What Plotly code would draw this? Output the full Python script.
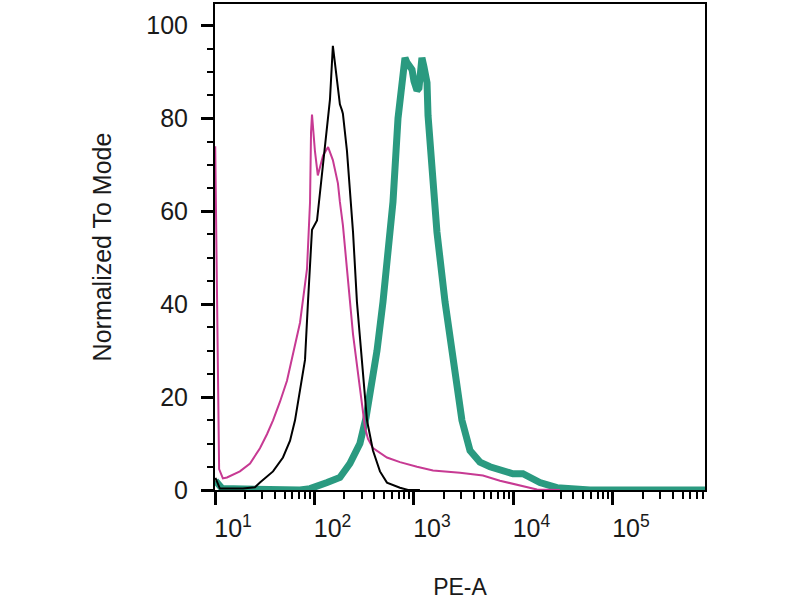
import plotly.graph_objects as go

# PE-A intensity (x) and % of mode (y)
black_x = [10.1, 11.2, 19.1, 25.2, 28.3, 38.3, 48.2, 56.8, 63.7, 71.5, 80.3, 86.0, 94.4,
           106, 122, 143, 153, 168, 180, 189, 193, 212, 227, 244, 267, 307, 337, 387,
           455, 535, 723, 871, 1148]
black_y = [2.6, 0.3, 0.3, 0.6, 1.6, 4, 7, 10.6, 15, 22, 28, 40.5, 56,
           58, 70, 84, 95.6, 89, 83, 81.7, 81, 73, 65, 55.5, 40.5, 26, 15, 8.5,
           4, 1.6, 0.5, 0, 0]

pink_x = [10.05, 11.0, 12.0, 13.2, 17.8, 22.5, 28.3, 33.3, 38.3, 45.0, 52.9, 71.5, 84.1,
          90.2, 92.3, 94.4, 101, 108, 122, 137, 153, 172, 180, 193, 212, 244, 286, 322,
          345, 387, 535, 723, 1072, 1553, 2897, 4932, 7311, 11610, 17220, 29300]
pink_y = [74, 4.5, 2.5, 2.7, 4, 5.7, 9, 12, 15, 19, 23.5, 36, 47.6,
          62, 77, 80.8, 73, 67.7, 72, 73.8, 71, 66, 62, 57, 47.6, 33.5, 22, 13.4,
          11, 9, 7, 6, 5, 4.2, 3.7, 3.1, 2, 1, 0.1, 0]

green_x = [10.1, 11.8, 71.5, 90.2, 134, 180, 227, 286, 329, 425, 488, 574, 615, 691,
           775, 812, 851, 891, 955, 1000, 1072, 1122, 1175, 1202, 1262, 1352, 1384,
           1518, 1702, 2051, 2582, 3034, 3656, 4603, 5803, 7311, 9886, 12450, 18450,
           27350, 46560, 58750, 841000]
green_y = [2, 0.3, 0, 0.3, 1.6, 2.7, 5.7, 10, 15.5, 30, 40.5, 55.5, 62, 80,
           90, 93, 92, 91.5, 90.5, 88, 86, 86.5, 90, 93, 91, 87.7, 80.6,
           70, 55.5, 40.5, 25.5, 15, 8.5, 6, 5, 4.2, 3.5, 3.5, 1.6,
           0.5, 0.3, 0, 0]

x_ticks = [10, 100, 1000, 10000, 100000]
x_labels = ["10<sup>1</sup>", "10<sup>2</sup>", "10<sup>3</sup>", "10<sup>4</sup>", "10<sup>5</sup>"]
y_ticks = [0, 20, 40, 60, 80, 100]

FONT = "Liberation Sans, Arial, sans-serif"

fig = go.Figure()
fig.add_trace(go.Scatter(x=green_x, y=green_y, mode="lines",
                         line=dict(color="#2a9a80", width=7)))
fig.add_trace(go.Scatter(x=pink_x, y=pink_y, mode="lines",
                         line=dict(color="#c73a93", width=2)))
fig.add_trace(go.Scatter(x=black_x, y=black_y, mode="lines",
                         line=dict(color="black", width=2)))

fig.update_layout(
    width=800, height=600,
    margin=dict(l=215, r=95, t=2, b=110),
    paper_bgcolor="white", plot_bgcolor="white",
    showlegend=False,
    font=dict(family=FONT, color="#1a1a1a", size=25),
)
fig.update_xaxes(
    type="log", range=[1, 5.925],
    tickmode="array", tickvals=x_ticks, ticktext=x_labels,
    ticks="outside", ticklen=13, tickwidth=3, tickcolor="black",
    ticklabelshift=18, ticklabelstandoff=2,
    minor=dict(ticks="outside", ticklen=7, tickwidth=2, tickcolor="black", dtick="D1"),
    showline=True, linecolor="black", linewidth=2, mirror=True,
    showgrid=False, zeroline=False,
    tickfont=dict(size=25),
    title=dict(text="PE-A", font=dict(size=23), standoff=38),
)
fig.update_yaxes(
    range=[0, 104.6],
    tickmode="array", tickvals=y_ticks,
    ticks="outside", ticklen=12, tickwidth=3, tickcolor="black",
    ticklabelstandoff=8,
    minor=dict(ticks="outside", ticklen=6, tickwidth=2, tickcolor="black", dtick=5),
    showline=True, linecolor="black", linewidth=2, mirror=True,
    showgrid=False, zeroline=False,
    tickfont=dict(size=25),
    title=dict(text="Normalized To Mode", font=dict(size=25), standoff=28),
)

# drop the browser's default 8px body margin so the figure sits at the page corner
fig.write_html("out.html", config={"displayModeBar": False},
               post_script="document.body.style.margin='0';")
